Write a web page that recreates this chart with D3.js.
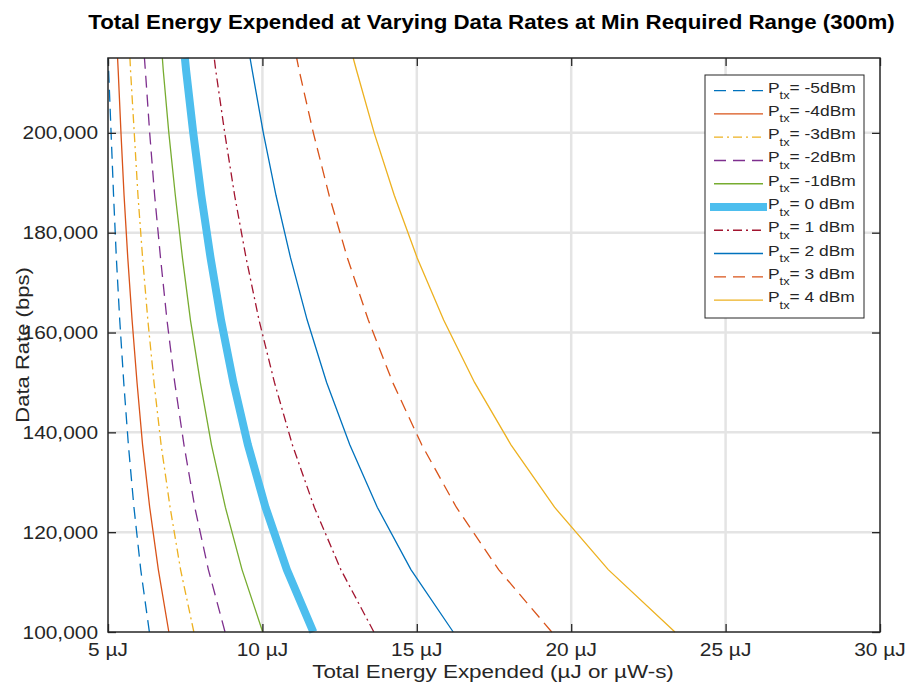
<!DOCTYPE html>
<html><head><meta charset="utf-8">
<script src="https://cdn.jsdelivr.net/npm/d3@7"></script>
<style>body{margin:0;background:#fff} text{font-family:Arial,"Liberation Sans",Helvetica,sans-serif;fill:#262626}</style>
</head><body><svg id="c" width="907" height="685"></svg>
<script>
// ---- data ----
const dataRates = [100000,112500,125000,137500,150000,162500,175000,187500,200000,212500,215000];
const txPowers  = ["-5dBm","-4dBm","-3dBm","-2dBm","-1dBm","0 dBm","1 dBm","2 dBm","3 dBm","4 dBm"];
const energyM5 = [6.34,6.06,5.84,5.66,5.51,5.38,5.27,5.18,5.10,5.02,5.01];
const energyM4 = [6.97,6.63,6.35,6.12,5.94,5.78,5.64,5.52,5.42,5.33,5.31];
const energyM3 = [7.78,7.35,7.01,6.72,6.49,6.29,6.12,5.97,5.85,5.73,5.71];
const energyM2 = [8.79,8.25,7.81,7.46,7.16,6.91,6.70,6.51,6.35,6.21,6.18];
const energyM1 = [10.01,9.34,8.80,8.35,7.99,7.67,7.41,7.18,6.97,6.79,6.76];
const energyP0 = [11.65,10.79,10.10,9.53,9.06,8.66,8.32,8.02,7.76,7.53,7.49];
const energyP1 = [13.61,12.54,11.68,10.97,10.39,9.89,9.47,9.10,8.78,8.49,8.44];
const energyP2 = [16.18,14.81,13.72,12.83,12.08,11.45,10.91,10.44,10.03,9.67,9.60];
const energyP3 = [19.37,17.65,16.28,15.16,14.22,13.43,12.75,12.16,11.65,11.19,11.11];
const energyP4 = [23.36,21.20,19.46,18.05,16.87,15.87,15.01,14.27,13.62,13.05,12.94];
const xTickValues = [5,10,15,20,25,30];
const yTickValues = [100000,120000,140000,160000,180000,200000];

const allSeries = [energyM5,energyM4,energyM3,energyM2,energyM1,energyP0,energyP1,energyP2,energyP3,energyP4];

// ---- styles ----
const colors = ["#0072BD","#D95319","#EDB120","#7E2F8E","#77AC30","#4DBEEE","#A2142F","#0072BD","#D95319","#EDB120"];
const dashes = ["12,7",null,"9,4,2,4","12,7",null,null,"9,4,2,4",null,"12,7",null];
const widths = [1.3,1.3,1.3,1.3,1.3,8,1.3,1.3,1.3,1.3];

const svg = d3.select("#c");
const L=108, R=880, T=58, B=632;
const x = d3.scaleLinear().domain([5,30]).range([L,R]);
const y = d3.scaleLinear().domain([100000,215000]).range([B,T]);
const STR = 1.16; // horizontal stretch of regular text

function label(parent, tx, ty, str, opts){
  const g = parent.append("g").attr("transform",`translate(${tx},${ty}) ${opts.rot?`rotate(${opts.rot})`:""} scale(${opts.sx||1},1)`);
  const t = g.append("text").attr("x",0).attr("y",0)
    .attr("text-anchor",opts.anchor||"middle")
    .style("font-size",opts.size+"px").style("font-weight",opts.weight||"normal")
    .text(str);
  if(opts.fitWidth){
    const w = t.node().getComputedTextLength();
    g.attr("transform",`translate(${tx},${ty}) scale(${opts.fitWidth/w},1)`);
  }
  return t;
}

// grid
const grid = svg.append("g");
grid.selectAll("line.gx").data(xTickValues.slice(1,-1)).join("line")
  .attr("x1",d=>x(d)).attr("x2",d=>x(d)).attr("y1",T).attr("y2",B)
  .attr("stroke","#e4e4e4").attr("stroke-width",2.5);
grid.selectAll("line.gy").data(yTickValues.slice(1)).join("line")
  .attr("y1",d=>y(d)).attr("y2",d=>y(d)).attr("x1",L).attr("x2",R)
  .attr("stroke","#e4e4e4").attr("stroke-width",2.5);

// series
const line = d3.line().x(d=>x(d[0])).y(d=>y(d[1]));
allSeries.forEach((s,i)=>{
  const pts = s.map((v,j)=>[v,dataRates[j]]);
  svg.append("path").attr("d",line(pts)).attr("fill","none")
    .attr("stroke",colors[i]).attr("stroke-width",widths[i])
    .attr("stroke-dasharray",dashes[i]);
});

// axes (ticks inward, box)
const axG = svg.append("g");
const tl = 8;
axG.append("g").attr("transform",`translate(0,${B})`)
  .call(d3.axisBottom(x).tickValues(xTickValues).tickSize(-tl).tickFormat(""))
  .call(g=>g.select(".domain").remove());
axG.append("g").attr("transform",`translate(0,${T})`)
  .call(d3.axisTop(x).tickValues(xTickValues).tickSize(-tl).tickFormat(""))
  .call(g=>g.select(".domain").remove());
axG.append("g").attr("transform",`translate(${L},0)`)
  .call(d3.axisLeft(y).tickValues(yTickValues).tickSize(-tl).tickFormat(""))
  .call(g=>g.select(".domain").remove());
axG.append("g").attr("transform",`translate(${R},0)`)
  .call(d3.axisRight(y).tickValues(yTickValues).tickSize(-tl).tickFormat(""))
  .call(g=>g.select(".domain").remove());
axG.selectAll(".tick line").attr("stroke","#262626").attr("stroke-width",1.3);
axG.append("rect").attr("x",L).attr("y",T).attr("width",R-L).attr("height",B-T)
  .attr("fill","none").attr("stroke","#262626").attr("stroke-width",1.5);

// tick labels
const fmtY = d3.format(",");
xTickValues.forEach(v=>label(svg,x(v),656,v+" µJ",{size:18,sx:STR}));
yTickValues.forEach(v=>label(svg,98,y(v)+6.5,fmtY(v),{size:18,sx:STR,anchor:"end"}));

// axis titles
label(svg,493,678,"Total Energy Expended (µJ or µW-s)",{size:19,sx:1.18});
label(svg,29,345,"Data Rate (bps)",{size:19,sx:STR,rot:-90});
label(svg,491.5,29,"Total Energy Expended at Varying Data Rates at Min Required Range (300m)",{size:21,weight:"bold",fitWidth:807})
  .style("fill","#000");

// legend
const lg = svg.append("g");
lg.append("rect").attr("x",705).attr("y",75).attr("width",159).attr("height",243)
  .attr("fill","#fff").attr("stroke","#262626").attr("stroke-width",1);
txPowers.forEach((p,i)=>{
  const ly = 90.7 + i*23.26;
  const thick = widths[i]>3;
  lg.append("line").attr("x1",thick?710:714).attr("x2",thick?767:763).attr("y1",ly).attr("y2",ly)
    .attr("stroke",colors[i]).attr("stroke-width",widths[i]).attr("stroke-dasharray",dashes[i]);
  const g = lg.append("g").attr("transform",`translate(768,${ly+2}) scale(${STR},1)`);
  const t = g.append("text").attr("x",0).attr("y",0).style("font-size","15px");
  t.append("tspan").text("P");
  t.append("tspan").attr("dy",6.5).style("font-size","11px").text("tx");
  t.append("tspan").attr("dy",-6.5).text("= "+p);
});
</script></body></html>
